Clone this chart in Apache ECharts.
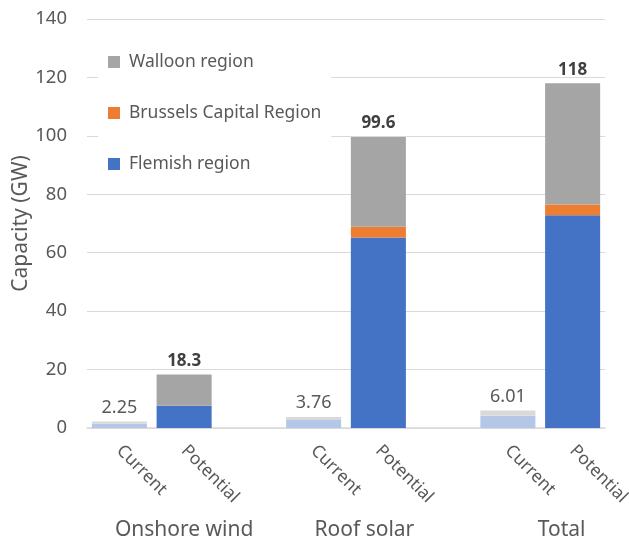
<!DOCTYPE html>
<html>
<head>
<meta charset="utf-8">
<script src="https://cdn.jsdelivr.net/npm/echarts@6/dist/echarts.min.js"></script>
<style>
  html, body { margin: 0; padding: 0; background: #fff; }
  #chart { width: 629px; height: 539px; }
</style>
</head>
<body>
<div id="chart"></div>
<script>
// bar slots: empty slots act as gaps between the groups
const barLabels = ['Current', 'Potential', '', 'Current', 'Potential', '', 'Current', 'Potential']
const groupLabels = ['', 'Onshore wind', '', '', 'Roof solar', '', '', 'Total']
const isCurrent = [true, false, false, true, false, false, true, false]

const flemish = [1.5, 7.6, null, 2.7, 65.2, null, 4.2, 72.8]
const brussels = [0, 0, null, 0.06, 3.7, null, 0.06, 3.7]
const walloon = [0.75, 10.7, null, 1.0, 30.7, null, 1.75, 41.5]
const totals = ['2.25', '18.3', '', '3.76', '99.6', '', '6.01', '118']

const yTicks = [0, 20, 40, 60, 80, 100, 120, 140]

const FONT = 'Noto Sans'
const TXT = '#595959'

function regionSeries(name, values, color, light, withTotals) {
  return {
    name,
    type: 'bar',
    stack: 'cap',
    barCategoryGap: '15%',
    itemStyle: { color },
    data: values.map((v, i) => {
      const item = { value: v }
      if (isCurrent[i]) item.itemStyle = { color: light }
      if (withTotals && totals[i]) {
        item.label = {
          show: true,
          position: 'top',
          distance: 5,
          formatter: isCurrent[i] ? '{n|' + totals[i] + '}' : '{b|' + totals[i] + '}',
          rich: {
            n: { fontFamily: FONT, fontSize: 18, color: TXT },
            b: { fontFamily: FONT, fontSize: 17, color: '#404040', fontWeight: 'bold' },
          },
        }
      }
      return item
    }),
  }
}

// the group names sit a little left of their potential bar in the original
const groupPad = { 'Onshore wind': 0, 'Roof solar': 28, 'Total': 22 }

const chart = echarts.init(document.getElementById('chart'))
chart.setOption({
  animation: false,
  backgroundColor: '#fff',
  grid: { left: 87, right: 24, top: 19, bottom: 111, containLabel: false, outerBoundsMode: 'none' },
  legend: {
    orient: 'vertical',
    left: 98,
    top: 41,
    padding: [12, 10, 12, 10],
    backgroundColor: '#fff',
    itemGap: 33,
    itemWidth: 12,
    itemHeight: 12,
    icon: 'rect',
    data: ['Walloon region', 'Brussels Capital Region', 'Flemish region'],
    textStyle: { fontFamily: FONT, fontSize: 17.5, color: TXT, padding: [0, 0, 0, 4] },
  },
  xAxis: [
    {
      type: 'category',
      data: barLabels,
      axisLine: { lineStyle: { color: '#d9d9d9', width: 1.5 } },
      axisTick: { show: false },
      axisLabel: { rotate: -45, margin: 20, interval: 0, fontFamily: FONT, fontSize: 17.5, color: TXT },
    },
    {
      type: 'category',
      position: 'bottom',
      offset: 92,
      data: groupLabels,
      axisLine: { show: false },
      axisTick: { show: false },
      axisLabel: {
        interval: 0,
        margin: 0,
        formatter: (v) => (v ? '{g' + groupPad[v] + '|' + v + '}' : ''),
        rich: {
          g0: { fontFamily: FONT, fontSize: 21, color: TXT },
          g28: { fontFamily: FONT, fontSize: 21, color: TXT, padding: [0, 28, 0, 0] },
          g22: { fontFamily: FONT, fontSize: 21, color: TXT, padding: [0, 22, 0, 0] },
        },
      },
    },
  ],
  yAxis: {
    type: 'value',
    min: yTicks[0],
    max: yTicks[yTicks.length - 1],
    interval: 20,
    name: 'Capacity (GW)',
    nameLocation: 'middle',
    nameGap: 55,
    nameMoveOverlap: false,
    nameTextStyle: { fontFamily: FONT, fontSize: 21, color: TXT },
    axisLine: { show: false },
    axisTick: { show: false },
    axisLabel: { margin: 20, fontFamily: FONT, fontSize: 18.5, color: TXT },
    splitLine: { lineStyle: { color: '#d9d9d9', width: 1.2 } },
  },
  series: [
    regionSeries('Flemish region', flemish, '#4472c4', '#b4c7e7', false),
    regionSeries('Brussels Capital Region', brussels, '#ed7d31', '#f8cbad', false),
    regionSeries('Walloon region', walloon, '#a5a5a5', '#d9d9d9', true),
  ],
})
</script>
</body>
</html>
